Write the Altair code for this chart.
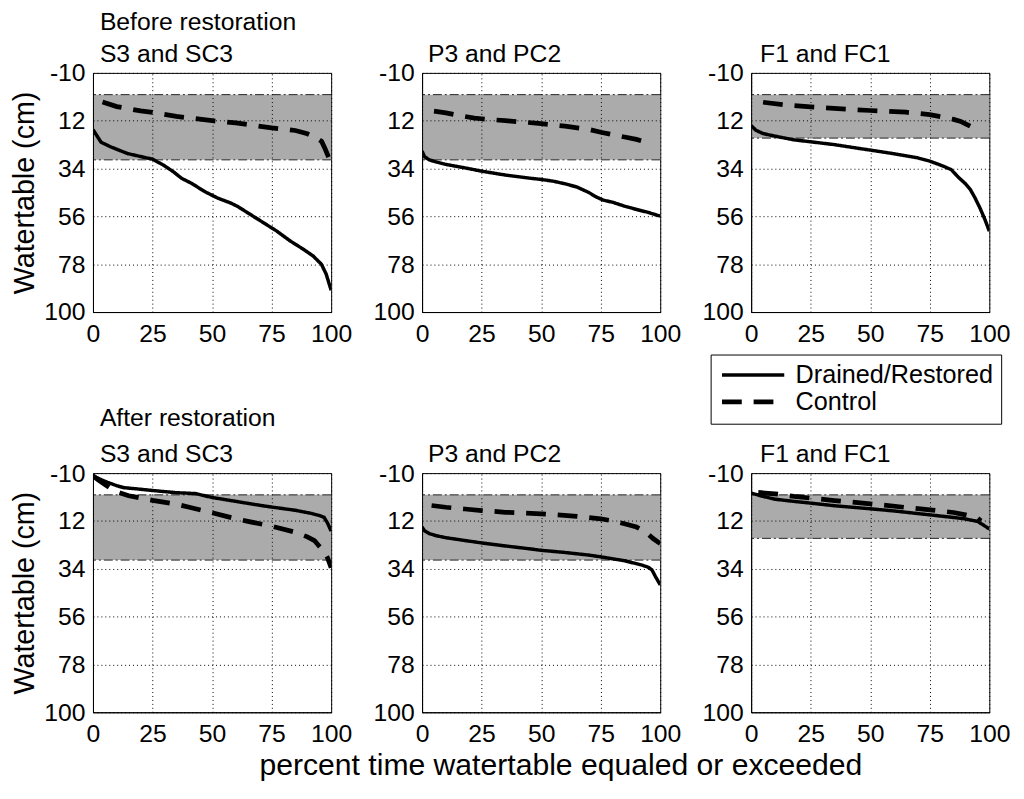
import altair as alt
import pandas as pd

FONT = "Liberation Sans"

series_names = ["Drained/Restored", "Control"]
x_ticks = [0, 25, 50, 75, 100]
y_ticks = [-10, 12, 34, 56, 78, 100]

panel_titles = [["Before restoration", "S3 and SC3"], "P3 and PC2", "F1 and FC1",
                ["After restoration", "S3 and SC3"], "P3 and PC2", "F1 and FC1"]
band_top = [0, 0, 0, 0, 0, 0]
band_bottom = [30, 30, 20, 30, 30, 20]

# ---- Before restoration ----
b_s3_solid_x = [0, 3.4, 7.6, 14.5, 25, 29.7, 33.8, 37.2, 41.4, 46.9, 52.4, 57.9, 60.7, 66.2, 71.7, 77.2, 82.8, 88.3, 92.4, 95.9, 97.9, 100]
b_s3_solid_y = [16.1, 21.9, 24.1, 27.1, 29.7, 32.5, 35.5, 38.5, 40.8, 44.6, 47.6, 49.9, 51.4, 55.2, 59, 62.8, 67.3, 71.1, 74.2, 78, 82.5, 90]
b_s3_dash_x = [4, 10, 20, 25, 35, 50, 60, 75, 85, 90, 94, 96, 97.5, 99, 100]
b_s3_dash_y = [3.4, 5.5, 7.5, 8.2, 10, 12, 13, 15.3, 16.5, 18, 20, 21.5, 25, 29, 34]

b_p3_solid_x = [0, 1, 3, 6, 10, 18, 25, 35, 45, 50, 55, 60, 65, 70, 73, 76, 80, 85, 90, 95, 100]
b_p3_solid_y = [26, 28.5, 30, 31, 32.1, 33.7, 35.2, 37, 38.4, 39, 39.8, 41, 42.5, 45, 47, 48.5, 49.5, 51.3, 52.8, 54.2, 55.9]
b_p3_dash_x = [5, 10, 15, 22, 25, 35, 50, 60, 70, 75, 85, 90, 94, 96]
b_p3_dash_y = [7.6, 8.4, 9.5, 10.8, 11.1, 12, 13.3, 14.5, 16, 17.3, 19.5, 20.6, 21.8, 22.5]

b_f1_solid_x = [0, 2, 5, 10, 18, 25, 35, 45, 50, 60, 70, 75, 80, 84, 87, 90, 92, 94, 96, 98, 100]
b_f1_solid_y = [14.2, 16.4, 17.9, 19.1, 20.8, 21.7, 23, 24.7, 25.5, 27.2, 29.1, 30.6, 32.6, 34.5, 38, 41, 43.6, 47.5, 52, 57, 62.8]
b_f1_dash_x = [5, 15, 25, 40, 50, 65, 75, 80, 85, 88, 90, 93, 95]
b_f1_dash_y = [3.5, 4.8, 5.6, 6.7, 7.3, 8.1, 9.2, 10.2, 11.4, 12.3, 13.4, 15, 16.4]

# ---- After restoration ----
a_s3_solid_x = [0, 3, 6, 10, 13, 18, 25, 35, 43, 50, 60, 70, 75, 85, 92, 95, 97, 98.5, 100]
a_s3_solid_y = [-8.8, -7.2, -5.8, -4.2, -3.3, -2.8, -2, -1, -0.6, 1.2, 3, 4.8, 5.6, 7.1, 8.6, 9.5, 10.3, 13, 16.7]
a_s3_dash_x = [0, 2, 5, 8, 11, 15, 25, 35, 40, 50, 60, 65, 75, 85, 90, 93, 95, 97, 98.5, 100]
a_s3_dash_y = [-8.8, -7, -4.8, -2.6, -1, 0.4, 2.5, 4.3, 5.6, 8.2, 11, 12.2, 14.4, 17.2, 19.3, 21, 23.6, 26, 29, 33.5]

a_p3_solid_x = [0, 1, 3, 6, 10, 18, 25, 35, 45, 50, 60, 70, 75, 85, 92, 95, 96.5, 98, 100]
a_p3_solid_y = [14.8, 16.5, 17.8, 18.8, 19.7, 21, 22.1, 23.5, 24.8, 25.5, 26.5, 27.7, 28.5, 30.3, 32.2, 33.3, 34.5, 37.6, 41.4]
a_p3_dash_x = [4, 10, 18, 25, 35, 50, 65, 75, 80, 85, 90, 94, 97, 100]
a_p3_dash_y = [4.9, 5.7, 6.5, 7.2, 8, 8.7, 9.9, 11, 12, 13.3, 14.8, 17.1, 20.1, 22.4]

a_f1_solid_x = [0, 5, 10, 18, 25, 35, 50, 60, 75, 85, 90, 95, 97, 100]
a_f1_solid_y = [-0.8, 0.7, 2, 3, 3.8, 5, 6.4, 7.4, 9.2, 10.4, 11.1, 12.2, 13.5, 15.7]
a_f1_dash_x = [3, 10, 18, 25, 35, 50, 65, 75, 85, 90, 93, 95, 96.5]
a_f1_dash_y = [-1.1, -0.5, 0.7, 1.5, 2.6, 4.1, 5.8, 6.9, 8.1, 9.2, 10, 10.7, 12]

panel_series = [
    (b_s3_solid_x, b_s3_solid_y, b_s3_dash_x, b_s3_dash_y),
    (b_p3_solid_x, b_p3_solid_y, b_p3_dash_x, b_p3_dash_y),
    (b_f1_solid_x, b_f1_solid_y, b_f1_dash_x, b_f1_dash_y),
    (a_s3_solid_x, a_s3_solid_y, a_s3_dash_x, a_s3_dash_y),
    (a_p3_solid_x, a_p3_solid_y, a_p3_dash_x, a_p3_dash_y),
    (a_f1_solid_x, a_f1_solid_y, a_f1_dash_x, a_f1_dash_y),
]

W, H = 241, 242

legend = alt.Legend(
    title=None, orient="none", legendX=625, legendY=285, direction="vertical",
    symbolType="M-3,0H3", symbolSize=441, symbolStrokeWidth=3.5, symbolStrokeColor="black",
    symbolOffset=22, labelOffset=30, labelLimit=0,
    labelFont=FONT, labelFontSize=25.5, labelColor="black",
    strokeColor="black", fillColor="white", padding=8, rowPadding=0,
)


def make_panel(i):
    sx, sy, dx_, dy_ = panel_series[i]
    rows = [{"pct": a, "wt": b, "series": series_names[0]} for a, b in zip(sx, sy)]
    rows += [{"pct": a, "wt": b, "series": series_names[1]} for a, b in zip(dx_, dy_)]
    df = pd.DataFrame(rows)
    band = pd.DataFrame({"pct": [0], "pct2": [100], "wt": [band_top[i]], "wt2": [band_bottom[i]]})
    edges = pd.DataFrame({"wt": [band_top[i], band_bottom[i]]})

    col = i % 3
    row = i // 3
    ytitle = "Watertable (cm)" if col == 0 else None
    xtitle = "percent time watertable equaled or exceeded" if (row == 1 and col == 1) else None

    xs = alt.Scale(domain=[0, 100], nice=False, zero=False)
    ys = alt.Scale(domain=[-10, 100], nice=False, zero=False, reverse=True)
    xax = alt.Axis(values=x_ticks, title=xtitle, grid=True, zindex=1, titleX=140,
                   titlePadding=4, labelPadding=10, titleFontSize=30.5)
    yax = alt.Axis(values=y_ticks, title=ytitle, grid=True, zindex=1,
                   labelExpr="'' + datum.value")

    X = alt.X("pct:Q", scale=xs, axis=xax)
    Y = alt.Y("wt:Q", scale=ys, axis=yax)

    band_layer = alt.Chart(band).mark_rect(color="#ababab").encode(
        x=X, x2="pct2:Q", y=Y, y2="wt2:Q")
    edge_layer = alt.Chart(edges).mark_rule(color="#222222", strokeDash=[9, 3, 2, 3],
                                            strokeWidth=1).encode(y=Y)
    line_layer = alt.Chart(df).mark_line(color="black", strokeCap="butt",
                                         clip=True).encode(
        x=X, y=Y,
        strokeDash=alt.StrokeDash("series:N",
                                  scale=alt.Scale(domain=series_names, range=[[1, 0], [20, 12]]),
                                  legend=legend),
        strokeWidth=alt.StrokeWidth("series:N",
                                    scale=alt.Scale(domain=series_names, range=[3.5, 4.8]),
                                    legend=None),
        order="pct:Q",
    )
    tdx = [7, 6, 9][col]
    lh = 37 if i == 3 else 32
    return alt.layer(band_layer, edge_layer, line_layer).properties(
        width=W, height=H,
        title=alt.TitleParams(panel_titles[i], anchor="start", dx=tdx, dy=10,
                              frame="group", lineHeight=lh),
    )


chart = alt.concat(*[make_panel(i) for i in range(6)], columns=3,
                   spacing={"row": 163, "column": 92}, bounds="flush").configure_view(
    stroke="black", strokeWidth=1
).configure_axis(
    domain=True, domainColor="black", domainWidth=1, ticks=False,
    gridColor="black", gridDash=[1, 3], gridWidth=1, gridOpacity=1,
    labelFont=FONT, labelFontSize=25, labelColor="black", labelPadding=8,
    labelFlush=False, labelOverlap=False,
    titleFont=FONT, titleFontSize=29, titleFontWeight="normal", titleColor="black",
    titlePadding=4,
).configure_title(
    font=FONT, fontSize=25, fontWeight="normal", color="black", anchor="start",
    offset=0,
).properties(background="white", padding={"left": 2, "top": -3, "right": 5, "bottom": 5})

chart.save("out.html", embed_options={"renderer": "svg", "actions": False})
